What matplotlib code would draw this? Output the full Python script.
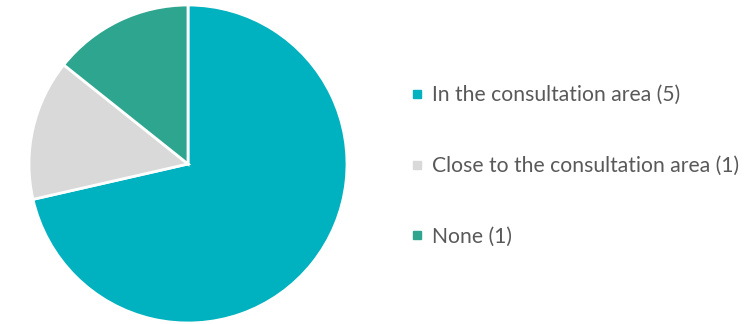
import matplotlib.pyplot as plt
from matplotlib.lines import Line2D

labels = ['In the consultation area (5)', 'Close to the consultation area (1)', 'None (1)']
counts = [5, 1, 1]
colors = ['#00B2BF', '#D9D9D9', '#2EA58E']

plt.rcParams['font.family'] = ['Lato', 'DejaVu Sans']

fig = plt.figure(figsize=(7.48, 3.24), dpi=100)
ax = fig.add_axes([29 / 748, 1 / 324, 318 / 748, 318 / 324])

ax.pie(counts, colors=colors, startangle=90, counterclock=False,
       wedgeprops={'edgecolor': 'white', 'linewidth': 2})
ax.set_xlim(-1, 1)
ax.set_ylim(-1, 1)
ax.set_aspect('equal')

# legend with small square markers
handles = [Line2D([0], [0], marker='s', linestyle='none', markersize=5.5,
                  markerfacecolor=c, markeredgecolor=c) for c in colors]
leg = fig.legend(handles, labels, loc='center left',
                 bbox_to_anchor=(412 / 748, 1 - 166 / 324),
                 frameon=False, fontsize=15.2, labelspacing=2.4,
                 handlelength=0.5, handletextpad=0.45,
                 borderaxespad=0, borderpad=0)
for t in leg.get_texts():
    t.set_color('#595959')

fig.savefig('out.png', dpi=100)
